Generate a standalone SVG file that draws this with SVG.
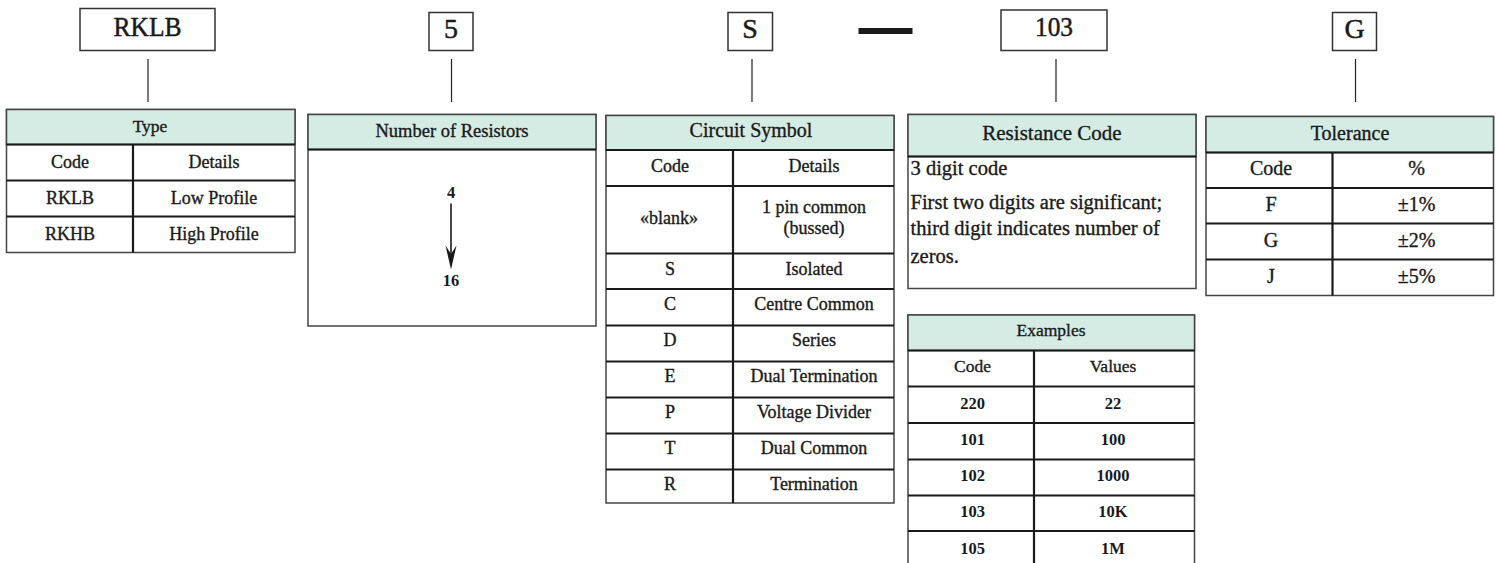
<svg xmlns="http://www.w3.org/2000/svg" width="1497" height="563" viewBox="0 0 1497 563">
<style>
text{font-family:"Liberation Serif","Times New Roman",serif;fill:#1a1a1a;stroke:#1a1a1a;stroke-width:0.35}
.big{font-size:28px;text-anchor:middle;stroke-width:0.5}
.hd{font-size:20px;text-anchor:middle}
.t{font-size:18px;text-anchor:middle}
.nb{font-size:16.5px;font-weight:bold;text-anchor:middle;stroke-width:0}
.rg{font-size:20px;text-anchor:middle}
.body{font-size:20.5px}
.box{fill:#fff;stroke:#333;stroke-width:1.5}
.hfill{fill:#d5ece5;stroke:#444;stroke-width:1.5}
.frame{fill:#fff;stroke:#444;stroke-width:1.5}
.ln{stroke:#1a1a1a;stroke-width:2.2;fill:none}
.conn{stroke:#222;stroke-width:1.2;fill:none}
</style>

<g id="connectors">
<line class="conn" x1="148" y1="59" x2="148" y2="102"/>
<line class="conn" x1="451.5" y1="59" x2="451.5" y2="102"/>
<line class="conn" x1="752" y1="59" x2="752" y2="102"/>
<line class="conn" x1="1056" y1="59" x2="1056" y2="102"/>
<line class="conn" x1="1355.5" y1="59" x2="1355.5" y2="102"/>
</g>

<g id="label-rklb">
<rect class="box" x="80" y="8.5" width="135" height="42"/>
<text class="big" x="147.5" y="36" textLength="68" lengthAdjust="spacingAndGlyphs">RKLB</text>
</g>
<g id="label-5">
<rect class="box" x="429" y="12.5" width="44" height="38"/>
<text class="big" x="451" y="38">5</text>
</g>
<g id="label-s">
<rect class="box" x="728" y="12.5" width="44.5" height="38"/>
<text class="big" x="750" y="38">S</text>
</g>
<g id="dash">
<rect x="858.5" y="28" width="54" height="6" fill="#1a1a1a"/>
</g>
<g id="label-103">
<rect class="box" x="1001" y="10" width="106" height="40.5"/>
<text class="big" x="1054" y="36" textLength="38" lengthAdjust="spacingAndGlyphs">103</text>
</g>
<g id="label-g">
<rect class="box" x="1332.5" y="12.5" width="44" height="38"/>
<text class="big" x="1354.5" y="38">G</text>
</g>

<g id="type-table">
<rect class="frame" x="6.5" y="109.5" width="288.5" height="143"/>
<rect class="hfill" x="6.5" y="109.5" width="288.5" height="35"/>
<path class="ln" d="M6.5,144.5H295M6.5,180.5H295M6.5,216.5H295M133,144.5V252.5"/>
<text class="t" x="150" y="131.5" style="font-size:17.5px">Type</text>
<text class="t" x="70" y="168">Code</text>
<text class="t" x="214" y="168">Details</text>
<text class="t" x="70" y="204">RKLB</text>
<text class="t" x="214" y="204">Low Profile</text>
<text class="t" x="70" y="240">RKHB</text>
<text class="t" x="214" y="240">High Profile</text>
</g>

<g id="resistors-table">
<rect class="frame" x="308" y="114.5" width="288" height="211.5"/>
<rect class="hfill" x="308" y="114.5" width="288" height="35"/>
<path class="ln" d="M308,149.5H596"/>
<text class="t" x="452" y="137" style="font-size:18.5px">Number of Resistors</text>
<text class="nb" x="451" y="198">4</text>
<line x1="451" y1="203.5" x2="451" y2="256" stroke="#1a1a1a" stroke-width="1.6"/>
<path d="M445.5,245.5L451,269.5L456.5,245.5L451,254Z" fill="#1a1a1a"/>
<text class="nb" x="451" y="286">16</text>
</g>

<g id="circuit-table">
<rect class="frame" x="606" y="115.5" width="288" height="387.5"/>
<rect class="hfill" x="606" y="115.5" width="288" height="34.5"/>
<path class="ln" d="M606,150H894M606,186H894M606,253.5H894M606,289H894M606,325.5H894M606,361.5H894M606,397.5H894M606,433.5H894M606,469.5H894M733,150V503"/>
<text class="hd" x="751" y="137">Circuit Symbol</text>
<text class="t" x="670" y="172">Code</text>
<text class="t" x="814" y="172">Details</text>
<text class="t" x="669" y="224">«blank»</text>
<text class="t" x="814" y="213">1 pin common</text>
<text class="t" x="814" y="234">(bussed)</text>
<text class="t" x="670" y="275">S</text>
<text class="t" x="814" y="275">Isolated</text>
<text class="t" x="670" y="310">C</text>
<text class="t" x="814" y="310">Centre Common</text>
<text class="t" x="670" y="346">D</text>
<text class="t" x="814" y="346">Series</text>
<text class="t" x="670" y="382">E</text>
<text class="t" x="814" y="382">Dual Termination</text>
<text class="t" x="670" y="418">P</text>
<text class="t" x="814" y="418">Voltage Divider</text>
<text class="t" x="670" y="454">T</text>
<text class="t" x="814" y="454">Dual Common</text>
<text class="t" x="670" y="490">R</text>
<text class="t" x="814" y="490">Termination</text>
</g>

<g id="resistance-code">
<rect class="frame" x="908" y="114.5" width="288" height="174"/>
<rect class="hfill" x="908" y="114.5" width="288" height="42"/>
<path class="ln" d="M908,156.5H1196"/>
<text class="hd" x="1052" y="140" style="font-size:21px">Resistance Code</text>
<text class="body" x="910.5" y="175">3 digit code</text>
<text class="body" x="910.5" y="208.5">First two digits are significant;</text>
<text class="body" x="910.5" y="235">third digit indicates number of</text>
<text class="body" x="910.5" y="262.5">zeros.</text>
</g>

<g id="examples-table">
<path class="frame" d="M908,570V315H1194.5V570"/>
<rect class="hfill" x="908" y="315" width="286.5" height="35.5"/>
<path class="ln" d="M908,350.5H1194.5M908,386.5H1194.5M908,423H1194.5M908,459.5H1194.5M908,495.5H1194.5M908,531H1194.5M1034,350.5V570"/>
<text class="t" x="1051" y="335.5" style="font-size:17.5px">Examples</text>
<text class="t" x="972.5" y="371.5" style="font-size:17.5px">Code</text>
<text class="t" x="1113" y="371.5" style="font-size:17.5px">Values</text>
<text class="nb" x="972.5" y="408.5">220</text>
<text class="nb" x="1113" y="408.5">22</text>
<text class="nb" x="972.5" y="445">101</text>
<text class="nb" x="1113" y="445">100</text>
<text class="nb" x="972.5" y="481">102</text>
<text class="nb" x="1113" y="481">1000</text>
<text class="nb" x="972.5" y="517">103</text>
<text class="nb" x="1113" y="517">10K</text>
<text class="nb" x="972.5" y="553.5">105</text>
<text class="nb" x="1113" y="553.5">1M</text>
</g>

<g id="tolerance-table">
<rect class="frame" x="1206" y="116.5" width="287.5" height="179"/>
<rect class="hfill" x="1206" y="116.5" width="287.5" height="36"/>
<path class="ln" d="M1206,152.5H1493.5M1206,188H1493.5M1206,223.5H1493.5M1206,259.5H1493.5M1332.5,152.5V295.5"/>
<text class="rg" x="1350" y="139.5">Tolerance</text>
<text class="rg" x="1271" y="175">Code</text>
<text class="rg" x="1416.5" y="175">%</text>
<text class="rg" x="1271" y="211">F</text>
<text class="rg" x="1416.5" y="211">±1%</text>
<text class="rg" x="1271" y="247">G</text>
<text class="rg" x="1416.5" y="247">±2%</text>
<text class="rg" x="1271" y="283">J</text>
<text class="rg" x="1416.5" y="283">±5%</text>
</g>
</svg>
